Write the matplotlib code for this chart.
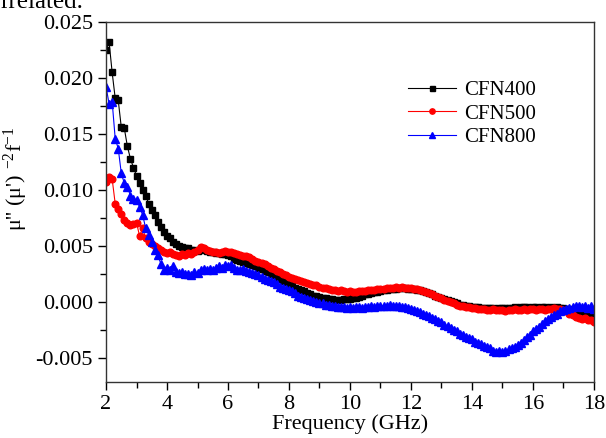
import numpy as np
import matplotlib
matplotlib.use("Agg")
import matplotlib.pyplot as plt
from matplotlib.ticker import MultipleLocator

plt.rcParams['font.family'] = ['Liberation Serif', 'DejaVu Serif']
plt.rcParams['mathtext.fontset'] = 'custom'
plt.rcParams['mathtext.rm'] = 'Liberation Serif'
plt.rcParams['mathtext.it'] = 'Liberation Serif'

# frequency grid (GHz)
freq = np.round(np.arange(2.0, 18.01, 0.1), 2)

# CFN400
cfn400 = [
    0.0225, 0.0232, 0.0205, 0.0182, 0.0180, 0.0156, 0.0155, 0.0139, 0.0128, 0.0120,
    0.0113, 0.0106, 0.0100, 0.0095, 0.0088, 0.0082, 0.0078, 0.0072, 0.0067, 0.0063,
    0.0059, 0.0057, 0.0054, 0.0052, 0.0050, 0.0049, 0.0048, 0.0048, 0.0047, 0.0047,
    0.0046, 0.0048, 0.0047, 0.0046, 0.0045, 0.0045, 0.0044, 0.0044, 0.0043, 0.0043,
    0.0042, 0.0041, 0.0039, 0.0038, 0.0037, 0.0036, 0.0035, 0.0034, 0.0033, 0.0032,
    0.0031, 0.0030, 0.0028, 0.0027, 0.0025, 0.0024, 0.0022, 0.0021, 0.0019, 0.0018,
    0.0016, 0.0015, 0.0013, 0.0012, 0.0011, 0.0010, 0.0008, 0.0007, 0.0006, 0.0006,
    0.0005, 0.0004, 0.0004, 0.0003, 0.0003, 0.0002, 0.0002, 0.0002, 0.0003, 0.0003,
    0.0003, 0.0004, 0.0004, 0.0005, 0.0006, 0.0007, 0.0007, 0.0008, 0.0009, 0.0009,
    0.0010, 0.0011, 0.0011, 0.0012, 0.0012, 0.0012, 0.0013, 0.0013, 0.0013, 0.0012,
    0.0012, 0.0012, 0.0011, 0.0011, 0.0010, 0.0009, 0.0008, 0.0007, 0.0006, 0.0005,
    0.0004, 0.0003, 0.0002, 0.0001, 0.0000, -0.0001, -0.0002, -0.0002, -0.0003, -0.0003,
    -0.0004, -0.0004, -0.0004, -0.0005, -0.0005, -0.0005, -0.0005, -0.0005, -0.0006, -0.0005,
    -0.0005, -0.0005, -0.0005, -0.0005, -0.0004, -0.0005, -0.0004, -0.0004, -0.0004, -0.0005,
    -0.0004, -0.0004, -0.0005, -0.0004, -0.0004, -0.0005, -0.0004, -0.0005, -0.0004, -0.0005,
    -0.0005, -0.0006, -0.0006, -0.0007, -0.0007, -0.0008, -0.0008, -0.0009, -0.0010, -0.0011,
    -0.0012,
]

# CFN500
cfn500 = [
    0.0107, 0.0112, 0.0110, 0.0088, 0.0083, 0.0079, 0.0073, 0.0071, 0.0069, 0.0070,
    0.0071, 0.0059, 0.0066, 0.0057, 0.0054, 0.0052, 0.0050, 0.0048, 0.0047, 0.0045,
    0.0044, 0.0045, 0.0043, 0.0042, 0.0041, 0.0043, 0.0042, 0.0044, 0.0043, 0.0045,
    0.0047, 0.0049, 0.0048, 0.0047, 0.0046, 0.0045, 0.0045, 0.0044, 0.0045, 0.0046,
    0.0045, 0.0045, 0.0044, 0.0043, 0.0042, 0.0041, 0.0041, 0.0040, 0.0039, 0.0037,
    0.0036, 0.0035, 0.0034, 0.0032, 0.0031, 0.0030, 0.0028, 0.0027, 0.0025, 0.0024,
    0.0023, 0.0022, 0.0021, 0.0020, 0.0019, 0.0018, 0.0017, 0.0016, 0.0015, 0.0015,
    0.0014, 0.0013, 0.0013, 0.0012, 0.0011, 0.0011, 0.0010, 0.0011, 0.0010, 0.0009,
    0.0010, 0.0009, 0.0009, 0.0010, 0.0010, 0.0010, 0.0011, 0.0011, 0.0011, 0.0012,
    0.0012, 0.0012, 0.0013, 0.0013, 0.0013, 0.0014, 0.0013, 0.0014, 0.0013, 0.0013,
    0.0013, 0.0012, 0.0012, 0.0011, 0.0010, 0.0009, 0.0008, 0.0007, 0.0006, 0.0005,
    0.0004, 0.0002, 0.0001, 0.0000, -0.0001, -0.0002, -0.0003, -0.0003, -0.0004, -0.0004,
    -0.0005, -0.0005, -0.0006, -0.0006, -0.0006, -0.0007, -0.0007, -0.0006, -0.0007, -0.0007,
    -0.0007, -0.0008, -0.0007, -0.0007, -0.0006, -0.0007, -0.0007, -0.0006, -0.0007, -0.0006,
    -0.0006, -0.0007, -0.0006, -0.0006, -0.0007, -0.0006, -0.0006, -0.0005, -0.0006, -0.0006,
    -0.0007, -0.0008, -0.0010, -0.0011, -0.0013, -0.0014, -0.0015, -0.0014, -0.0016, -0.0016,
    -0.0018,
]

# CFN800
cfn800 = [
    0.0192, 0.0177, 0.0179, 0.0146, 0.0137, 0.0115, 0.0106, 0.0103, 0.0095, 0.0092,
    0.0091, 0.0085, 0.0078, 0.0066, 0.0060, 0.0054, 0.0047, 0.0042, 0.0034, 0.0029,
    0.0031, 0.0029, 0.0032, 0.0027, 0.0026, 0.0027, 0.0025, 0.0025, 0.0024, 0.0027,
    0.0026, 0.0029, 0.0030, 0.0029, 0.0030, 0.0029, 0.0031, 0.0032, 0.0031, 0.0033,
    0.0032, 0.0033, 0.0031, 0.0029, 0.0029, 0.0030, 0.0028, 0.0027, 0.0026, 0.0025,
    0.0024, 0.0023, 0.0021, 0.0020, 0.0019, 0.0018, 0.0016, 0.0014, 0.0013, 0.0012,
    0.0011, 0.0010, 0.0008, 0.0006, 0.0005, 0.0004, 0.0003, 0.0002, 0.0001, 0.0000,
    -0.0001, -0.0001, -0.0002, -0.0002, -0.0003, -0.0003, -0.0004, -0.0004, -0.0004, -0.0005,
    -0.0004, -0.0005, -0.0004, -0.0004, -0.0005, -0.0004, -0.0004, -0.0003, -0.0004, -0.0003,
    -0.0003, -0.0003, -0.0003, -0.0002, -0.0003, -0.0003, -0.0003, -0.0004, -0.0004, -0.0005,
    -0.0006, -0.0007, -0.0008, -0.0009, -0.0010, -0.0011, -0.0012, -0.0014, -0.0015, -0.0017,
    -0.0018, -0.0020, -0.0021, -0.0023, -0.0025, -0.0026, -0.0028, -0.0029, -0.0031, -0.0032,
    -0.0033, -0.0035, -0.0036, -0.0037, -0.0039, -0.0040, -0.0041, -0.0043, -0.0044, -0.0043,
    -0.0044, -0.0043, -0.0042, -0.0041, -0.0040, -0.0038, -0.0036, -0.0034, -0.0031, -0.0029,
    -0.0026, -0.0024, -0.0022, -0.0019, -0.0017, -0.0015, -0.0013, -0.0011, -0.0010, -0.0008,
    -0.0007, -0.0006, -0.0005, -0.0004, -0.0003, -0.0003, -0.0004, -0.0003, -0.0005, -0.0003,
    -0.0006,
]

fig = plt.figure(figsize=(6.06, 4.38), dpi=100)
ax = fig.add_axes([0.175, 0.128, 0.805, 0.822])

# clipped caption text from the page above the figure
fig.text(0.0, 0.982, "rrelated.", fontsize=18, va='baseline', ha='left')

ax.plot(freq, cfn400, color='black', marker='s', markersize=4.5, lw=0.8, label='CFN400')
ax.plot(freq, cfn500, color='red', marker='o', markersize=4.8, lw=0.8, label='CFN500')
ax.plot(freq, cfn800, color='blue', marker='^', markersize=5.2, lw=0.8, label='CFN800')

ax.set_xlim(2, 18)
ax.set_ylim(-0.0071, 0.025)
ax.xaxis.set_major_locator(MultipleLocator(2))
ax.xaxis.set_minor_locator(MultipleLocator(1))
ax.yaxis.set_major_locator(MultipleLocator(0.005))
ax.yaxis.set_minor_locator(MultipleLocator(0.0025))
ax.yaxis.set_major_formatter(plt.FuncFormatter(lambda v, p: f"{v:.3f}"))
ax.tick_params(which='both', direction='out', top=False, right=False, labelsize=16)
ax.tick_params(which='major', length=6, width=1)
ax.tick_params(which='minor', length=4, width=1)
for s in ax.spines.values():
    s.set_linewidth(1.0)
    s.set_color('#333333')

ax.set_xlabel('Frequency (GHz)', fontsize=16, labelpad=0)
ax.set_ylabel("μ'' (μ') $^{-2}$f$^{-1}$", fontsize=16)
ax.yaxis.set_label_coords(-0.155, 0.565)

ax.legend(loc='upper right', bbox_to_anchor=(0.92, 0.89), frameon=False, fontsize=15,
          handlelength=2.3, handletextpad=0.4, labelspacing=0.2, markerscale=0.8)

fig.savefig('out.png', dpi=100)
